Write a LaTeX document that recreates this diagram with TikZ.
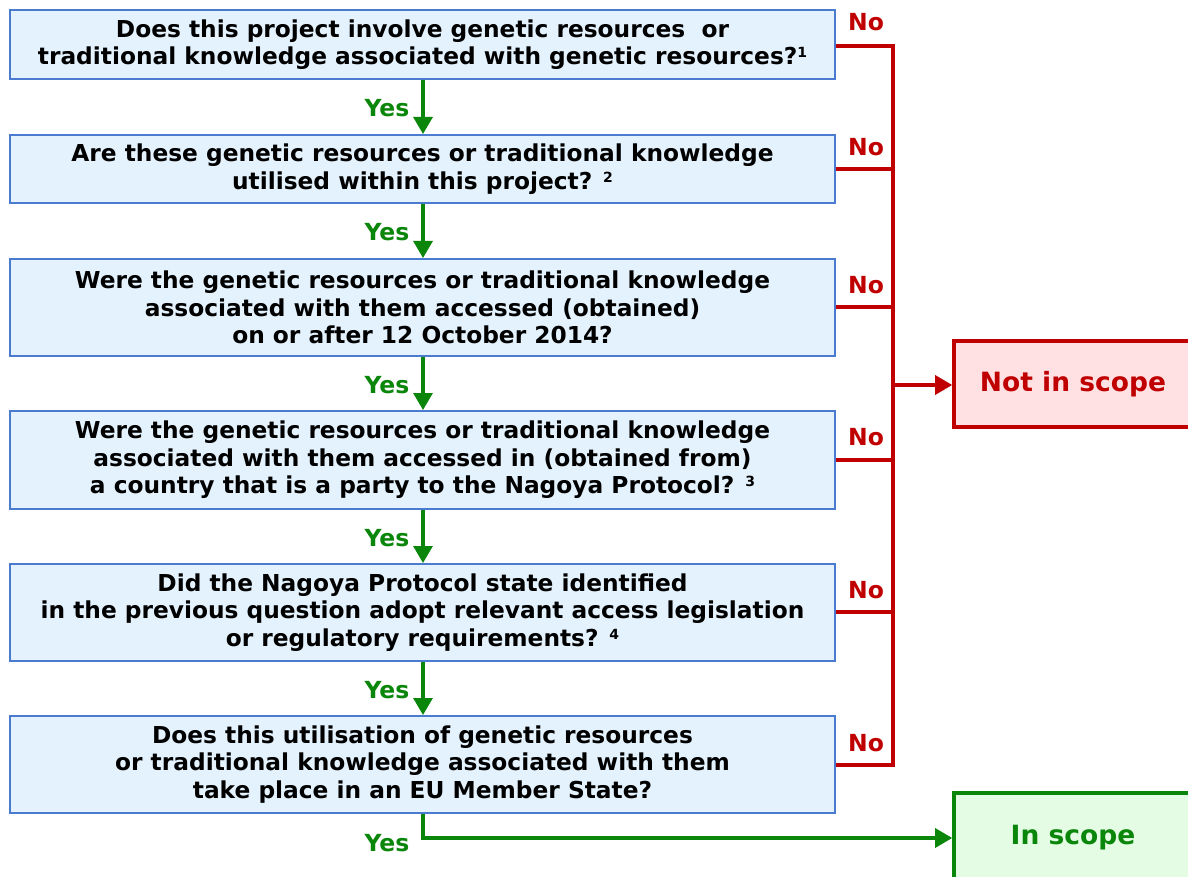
\documentclass[tikz,border=0pt]{standalone}
\usepackage{fontspec}
\setmainfont{DejaVu Sans}
\usetikzlibrary{arrows.meta}
\definecolor{qfill}{HTML}{E3F2FD}
\definecolor{qdraw}{HTML}{4A7BD0}
\definecolor{ygreen}{HTML}{0A860A}
\definecolor{nred}{HTML}{C00000}
\definecolor{nfill}{HTML}{FFE1E3}
\definecolor{gfill}{HTML}{E3FCE3}
\begin{document}
\begin{tikzpicture}[x=1pt,y=1pt,
  qbox/.style={draw=qdraw, line width=2pt, fill=qfill, minimum width=825pt, inner sep=0pt, align=center, font=\fontsize{23.3}{27.5}\selectfont\bfseries},
  tip/.style={-{Triangle[length=17pt,width=19pt]}},
  yesarrow/.style={draw=ygreen, line width=3.2pt, tip},
  noline/.style={draw=nred, line width=3.2pt},
  yeslbl/.style={text=ygreen, font=\fontsize{23.5}{26}\selectfont\bfseries},
  nolbl/.style={text=nred, font=\fontsize{23.5}{26}\selectfont\bfseries},
  outbox/.style={line width=3.6pt, minimum width=238pt, minimum height=86pt, inner sep=0pt, font=\fontsize{26.5}{30}\selectfont\bfseries}
]
\clip (0,0) rectangle (1188,-877);
\fill[white] (0,0) rectangle (1188,-877);
\newcommand{\sups}[1]{\raisebox{7pt}{\fontsize{14}{14}\selectfont #1}}

\node[qbox, minimum height=69pt] (b1) at (422.5,-44.5) {Does this project involve genetic resources \ or\\traditional knowledge associated with genetic resources?\sups{1}};
\node[qbox, minimum height=68pt] (b2) at (422.5,-169) {Are these genetic resources or traditional knowledge\\utilised within this project? \sups{2}};
\node[qbox, minimum height=97pt] (b3) at (422.5,-307.5) {Were the genetic resources or traditional knowledge\\associated with them accessed (obtained)\\on or after 12 October 2014?};
\node[qbox, minimum height=98pt] (b4) at (422.5,-460) {Were the genetic resources or traditional knowledge\\associated with them accessed in (obtained from)\\a country that is a party to the Nagoya Protocol? \sups{3}};
\node[qbox, minimum height=97pt] (b5) at (422.5,-612.5) {Did the Nagoya Protocol state identified\\in the previous question adopt relevant access legislation\\or regulatory requirements? \sups{4}};
\node[qbox, minimum height=97pt] (b6) at (422.5,-764.5) {Does this utilisation of genetic resources\\or traditional knowledge associated with them\\take place in an EU Member State?};

\node[outbox, draw=nred, fill=nfill, text=nred] (nis) at (1073,-384) {Not in scope};
\node[outbox, draw=ygreen, fill=gfill, text=ygreen, minimum height=90pt] (is) at (1073,-838) {In scope};

% Yes arrows
\draw[yesarrow] (b1.south -| 423,0) -- (b2.north -| 423,0);
\draw[yesarrow] (b2.south -| 423,0) -- (b3.north -| 423,0);
\draw[yesarrow] (b3.south -| 423,0) -- (b4.north -| 423,0);
\draw[yesarrow] (b4.south -| 423,0) -- (b5.north -| 423,0);
\draw[yesarrow] (b5.south -| 423,0) -- (b6.north -| 423,0);
\draw[yesarrow] (b6.south -| 423,0) |- (is.west);

\node[yeslbl] (y1) at (387,-108) {Yes};
\node[yeslbl] (y2) at (387,-232) {Yes};
\node[yeslbl] (y3) at (387,-385) {Yes};
\node[yeslbl] (y4) at (387,-538) {Yes};
\node[yeslbl] (y5) at (387,-690) {Yes};
\node[yeslbl] (y6) at (387,-843) {Yes};

% No lines
\coordinate (ttop) at (893,-46);
\coordinate (tbot) at (893,-765);
\coordinate (tmid) at (893,-385);
\draw[noline] (b1.east |- ttop) -- (ttop) -- (tbot) -- (b6.east |- tbot);
\draw[noline] (b2.east |- 0,-169) -- (893,-169);
\draw[noline] (b3.east |- 0,-307) -- (893,-307);
\draw[noline] (b4.east |- 0,-460) -- (893,-460);
\draw[noline] (b5.east |- 0,-612) -- (893,-612);
\draw[noline, tip] (tmid) -- (tmid -| nis.west);

\node[nolbl] (n1) at (866,-22) {No};
\node[nolbl] (n2) at (866,-147) {No};
\node[nolbl] (n3) at (866,-285) {No};
\node[nolbl] (n4) at (866,-437) {No};
\node[nolbl] (n5) at (866,-590) {No};
\node[nolbl] (n6) at (866,-743) {No};
\end{tikzpicture}
\end{document}
